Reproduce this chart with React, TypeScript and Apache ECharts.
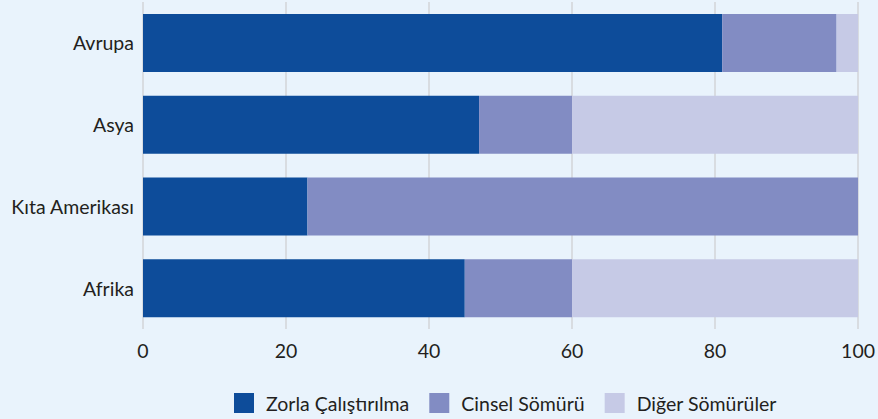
import React, { useEffect, useRef } from "react";
import * as echarts from "echarts";

const categories = ["Afrika", "Kıta Amerikası", "Asya", "Avrupa"];
const seriesNames = ["Zorla Çalıştırılma", "Cinsel Sömürü", "Diğer Sömürüler"];
const forcedLabour = [45, 23, 47, 81];
const sexualExploitation = [15, 77, 13, 16];
const otherExploitation = [40, 0, 40, 3];
const xTicks = [0, 20, 40, 60, 80, 100];

const colors = ["#0d4c9a", "#828cc3", "#c6cae6"];
const FONT = "Lato, 'Open Sans', sans-serif";

export default function App() {
  const ref = useRef<HTMLDivElement>(null);
  useEffect(() => {
    if (!ref.current) return;
    const chart = echarts.init(ref.current, null, { renderer: "svg" });
    const values = [forcedLabour, sexualExploitation, otherExploitation];
    chart.setOption({
      animation: false,
      backgroundColor: "#e9f3fc",
      textStyle: { fontFamily: FONT },
      grid: { left: 143, right: 19, top: 2, bottom: 90, containLabel: false },
      legend: {
        top: 388,
        left: 229,
        itemWidth: 20,
        itemHeight: 20,
        itemGap: 20,
        icon: "rect",
        textStyle: { fontSize: 19.5, color: "#231f20", fontFamily: FONT, padding: [0, 0, 0, 7] },
        data: seriesNames,
      },
      xAxis: {
        type: "value",
        min: xTicks[0],
        max: xTicks[xTicks.length - 1],
        interval: 20,
        axisLine: { show: false },
        axisTick: { show: false },
        axisLabel: { fontSize: 19.5, color: "#231f20", margin: 11, fontFamily: FONT },
        splitLine: { show: true, lineStyle: { color: "#d2d4d8", width: 1.5 } },
      },
      yAxis: {
        type: "category",
        data: categories,
        axisLine: { show: false },
        axisTick: { show: false },
        axisLabel: { fontSize: 19.5, color: "#231f20", margin: 9, fontFamily: FONT },
      },
      series: seriesNames.map((name, i) => ({
        name,
        type: "bar",
        stack: "total",
        barWidth: 58,
        data: values[i],
        itemStyle: { color: colors[i] },
      })),
    });
    return () => chart.dispose();
  }, []);
  return <div ref={ref} style={{ width: 878, height: 419, position: "absolute", left: 0, top: 0 }} />;
}
